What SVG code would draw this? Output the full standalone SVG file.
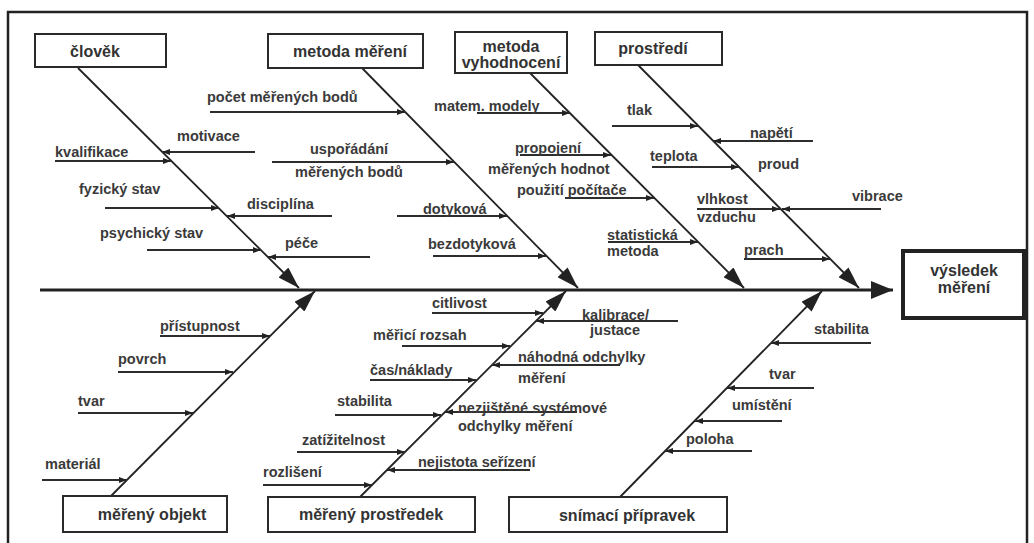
<svg xmlns="http://www.w3.org/2000/svg" width="1034" height="543" viewBox="0 0 1034 543">
<style>
.box{fill:#fff;stroke:#2a2a2a;stroke-width:2}
.res{fill:#fff;stroke:#222;stroke-width:4}
.t{font-family:"Liberation Sans",Arial,sans-serif;font-weight:bold;font-size:14.5px;fill:#3a3a3a}
.bt{font-family:"Liberation Sans",Arial,sans-serif;font-weight:bold;font-size:16px;fill:#333;text-anchor:middle}
.bone{stroke:#222;stroke-width:1.8;fill:none;marker-end:url(#big)}
.spine{stroke:#222;stroke-width:3;fill:none;marker-end:url(#sp)}
.sub{stroke:#2d2d2d;stroke-width:2;fill:none;marker-end:url(#sm)}
</style>
<defs>
<marker id="big" markerUnits="userSpaceOnUse" markerWidth="22" markerHeight="14" viewBox="0 0 22 14" refX="22" refY="7" orient="auto"><path d="M0,0 L22,7 L0,14 z" fill="#222"/></marker>
<marker id="sp" markerUnits="userSpaceOnUse" markerWidth="22" markerHeight="18" viewBox="0 0 22 18" refX="22" refY="9" orient="auto"><path d="M0,0 L22,9 L0,18 z" fill="#222"/></marker>
<marker id="sm" markerUnits="userSpaceOnUse" markerWidth="8" markerHeight="6" viewBox="0 0 8 6" refX="8" refY="3" orient="auto"><path d="M0,0 L8,3 L0,6 z" fill="#222"/></marker>
</defs>
<rect x="0" y="0" width="1034" height="543" fill="#fff"/>
<rect x="8" y="12" width="1019" height="545" fill="none" stroke="#222" stroke-width="2.5"/>

<g id="connectors">
<path class="spine" d="M40,290 L893,290"/>
<path class="bone" d="M78,68 L299,288"/>
<path class="bone" d="M362,68 L578,288"/>
<path class="bone" d="M530,73 L744,288"/>
<path class="bone" d="M638,65 L859,288"/>
<path class="bone" d="M111,496 L315,291"/>
<path class="bone" d="M360,497 L566,291"/>
<path class="bone" d="M620,497 L822,291"/>
<path class="sub" d="M255,152 L162,152"/>
<path class="sub" d="M55,161 L171,161"/>
<path class="sub" d="M105,208 L219,208"/>
<path class="sub" d="M332,216 L227,216"/>
<path class="sub" d="M147,250 L261,250"/>
<path class="sub" d="M370,257 L268,257"/>
<path class="sub" d="M210,112 L405,112"/>
<path class="sub" d="M272,162 L454,162"/>
<path class="sub" d="M397,216 L507,216"/>
<path class="sub" d="M433,256 L546,256"/>
<path class="sub" d="M477,113 L570,113"/>
<path class="sub" d="M520,155 L611,155"/>
<path class="sub" d="M565,198 L654,198"/>
<path class="sub" d="M608,242 L698,242"/>
<path class="sub" d="M612,126 L698,126"/>
<path class="sub" d="M813,141 L713,141"/>
<path class="sub" d="M652,167 L739,167"/>
<path class="sub" d="M697,209 L780,209"/>
<path class="sub" d="M881,209 L782,209"/>
<path class="sub" d="M744,259 L830,259"/>
<path class="sub" d="M160,336 L270,336"/>
<path class="sub" d="M118,372 L233,372"/>
<path class="sub" d="M78,413 L193,413"/>
<path class="sub" d="M42,480 L127,480"/>
<path class="sub" d="M432,313 L543,313"/>
<path class="sub" d="M678,321 L536,321"/>
<path class="sub" d="M402,346 L510,346"/>
<path class="sub" d="M620,365 L492,365"/>
<path class="sub" d="M370,380 L476,380"/>
<path class="sub" d="M577,412 L445,412"/>
<path class="sub" d="M335,415 L441,415"/>
<path class="sub" d="M297,452 L405,452"/>
<path class="sub" d="M530,470 L387,470"/>
<path class="sub" d="M263,485 L372,485"/>
<path class="sub" d="M871,343 L771,343"/>
<path class="sub" d="M814,388 L727,388"/>
<path class="sub" d="M782,421 L695,421"/>
<path class="sub" d="M752,451 L665,451"/>
</g>

<g id="labels">
<text class="t" x="207" y="102">počet měřených bodů</text>
<text class="t" x="177" y="141">motivace</text>
<text class="t" x="55" y="157">kvalifikace</text>
<text class="t" x="310" y="154">uspořádání</text>
<text class="t" x="295" y="177">měřených bodů</text>
<text class="t" x="79" y="194">fyzický stav</text>
<text class="t" x="247" y="209">disciplína</text>
<text class="t" x="100" y="238">psychický stav</text>
<text class="t" x="285" y="248">péče</text>
<text class="t" x="423" y="214">dotyková</text>
<text class="t" x="428" y="249">bezdotyková</text>
<text class="t" x="434" y="111">matem. modely</text>
<text class="t" x="515" y="153">propojení</text>
<text class="t" x="488" y="174">měřených hodnot</text>
<text class="t" x="517" y="195">použití počítače</text>
<text class="t" x="607" y="240">statistická</text>
<text class="t" x="607" y="256">metoda</text>
<text class="t" x="627" y="115">tlak</text>
<text class="t" x="750" y="138">napětí</text>
<text class="t" x="650" y="161">teplota</text>
<text class="t" x="758" y="169">proud</text>
<text class="t" x="697" y="204">vlhkost</text>
<text class="t" x="697" y="222">vzduchu</text>
<text class="t" x="852" y="201">vibrace</text>
<text class="t" x="744" y="255">prach</text>
<text class="t" x="160" y="331">přístupnost</text>
<text class="t" x="118" y="364">povrch</text>
<text class="t" x="78" y="406">tvar</text>
<text class="t" x="45" y="469">materiál</text>
<text class="t" x="432" y="308">citlivost</text>
<text class="t" x="582" y="320">kalibrace/</text>
<text class="t" x="590" y="335">justace</text>
<text class="t" x="373" y="340">měřicí rozsah</text>
<text class="t" x="518" y="362">náhodná odchylky</text>
<text class="t" x="518" y="383">měření</text>
<text class="t" x="370" y="375">čas/náklady</text>
<text class="t" x="337" y="406">stabilita</text>
<text class="t" x="458" y="413">nezjištěné systémové</text>
<text class="t" x="458" y="431">odchylky měření</text>
<text class="t" x="302" y="445">zatížitelnost</text>
<text class="t" x="418" y="467">nejistota seřízení</text>
<text class="t" x="263" y="477">rozlišení</text>
<text class="t" x="814" y="334">stabilita</text>
<text class="t" x="769" y="379">tvar</text>
<text class="t" x="732" y="410">umístění</text>
<text class="t" x="686" y="444">poloha</text>
</g>

<g id="node-clovek"><rect class="box" x="35" y="34" width="131" height="33"/><text class="bt" x="95" y="57">člověk</text></g>
<g id="node-metoda-mereni"><rect class="box" x="268" y="34" width="155" height="34"/><text class="bt" x="350" y="57">metoda měření</text></g>
<g id="node-metoda-vyhodnoceni"><rect class="box" x="455" y="32" width="112" height="41"/><text class="bt" x="511" y="52">metoda</text><text class="bt" x="511" y="68">vyhodnocení</text></g>
<g id="node-prostredi"><rect class="box" x="595" y="32" width="127" height="33"/><text class="bt" x="653" y="54">prostředí</text></g>
<g id="node-vysledek"><rect class="res" x="903" y="251" width="121" height="67"/><text class="bt" x="964" y="276">výsledek</text><text class="bt" x="964" y="293">měření</text></g>
<g id="node-mereny-objekt"><rect class="box" x="63" y="496" width="164" height="36"/><text class="bt" x="152" y="520">měřený objekt</text></g>
<g id="node-mereny-prostredek"><rect class="box" x="268" y="497" width="207" height="35"/><text class="bt" x="371" y="520">měřený prostředek</text></g>
<g id="node-snimaci-pripravek"><rect class="box" x="509" y="497" width="218" height="35"/><text class="bt" x="627" y="521">snímací přípravek</text></g>
</svg>
